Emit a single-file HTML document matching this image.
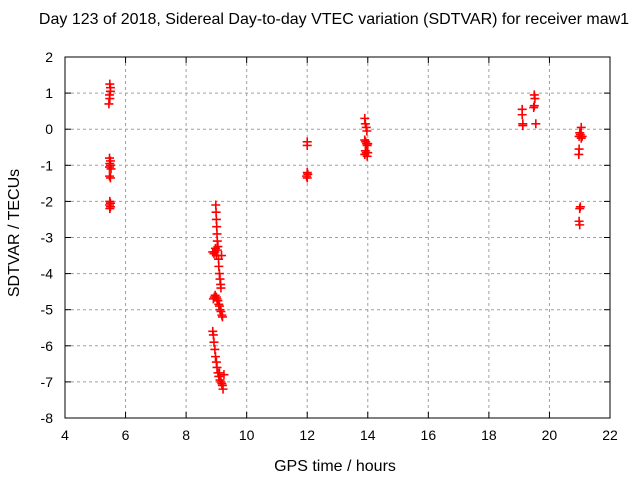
<!DOCTYPE html>
<html><head><meta charset="utf-8"><style>
body{margin:0;background:#fff}
svg text{font-family:"Liberation Sans",sans-serif;font-size:14px;fill:#000}
svg text.big{font-size:16px}
</style></head><body>
<svg id="chart" width="640" height="480" xmlns="http://www.w3.org/2000/svg">
<rect width="640" height="480" fill="#fff"/>
<text class="big" x="334" y="24" text-anchor="middle">Day 123 of 2018, Sidereal Day-to-day VTEC variation (SDTVAR) for receiver maw1</text>
<text class="big" x="335" y="471" text-anchor="middle">GPS time / hours</text>
<text class="big" transform="translate(19,233) rotate(-90)" text-anchor="middle">SDTVAR / TECUs</text>
<g id="grid"></g><g id="axes"></g><g id="pts"></g>
<rect x="65" y="57" width="545" height="361" fill="none" stroke="#000"/>
</svg>
<script>
const xTicks=[4,6,8,10,12,14,16,18,20,22];
const yTicks=[2,1,0,-1,-2,-3,-4,-5,-6,-7,-8];
const pointX=[5.48,5.5,5.5,5.47,5.48,5.45,5.47,5.5,5.48,5.5,5.47,5.52,5.47,5.5,5.48,5.5,5.47,5.5,5.48,
8.98,8.99,9.0,9.01,9.02,9.03,9.05,9.07,9.08,9.1,9.12,9.14,9.15,9.17,8.88,8.92,8.95,9.0,9.03,8.97,
8.9,8.93,8.96,9.0,9.02,9.05,9.08,9.1,9.12,9.15,9.18,9.2,
8.88,8.9,8.92,8.95,8.97,9.0,9.02,9.05,9.08,9.12,9.15,9.18,9.2,9.22,9.25,9.1,
12.0,12.0,12.0,12.02,11.98,12.0,
13.9,13.92,13.95,13.97,13.9,13.93,13.96,13.98,14.0,13.92,13.95,13.9,13.98,14.0,
19.1,19.1,19.12,19.12,19.5,19.52,19.5,19.48,19.55,
21.05,21.0,21.02,21.08,21.05,20.98,20.98,20.97,21.02,21.0,20.98,21.0];
const pointY=[1.25,1.15,1.05,0.95,0.85,0.7,-0.8,-0.88,-0.95,-1.0,-1.05,-1.1,-1.3,-1.35,-2.0,-2.05,-2.1,-2.15,-2.2,
-2.1,-2.3,-2.5,-2.7,-2.9,-3.1,-3.25,-3.6,-3.8,-4.0,-4.15,-4.3,-4.4,-3.5,-3.4,-3.45,-3.4,-3.5,-3.35,-3.3,
-4.7,-4.65,-4.6,-4.65,-4.7,-4.75,-4.85,-4.9,-5.0,-5.05,-5.15,-5.2,
-5.6,-5.7,-5.9,-6.1,-6.3,-6.45,-6.6,-6.75,-6.85,-6.95,-7.0,-7.05,-7.1,-7.2,-6.8,-6.75,
-0.35,-0.45,-1.2,-1.25,-1.3,-1.35,
0.3,0.15,0.05,-0.05,-0.3,-0.35,-0.4,-0.45,-0.4,-0.6,-0.65,-0.7,-0.75,-0.65,
0.55,0.4,0.15,0.1,0.95,0.85,0.65,0.6,0.15,
0.05,-0.1,-0.15,-0.2,-0.25,-0.2,-0.55,-0.7,-2.15,-2.2,-2.55,-2.65];
const X0=65,X1=610,Y0=57,Y1=418;
const sx=v=>X0+(v-4)/18*(X1-X0), sy=v=>Y0+(2-v)/10*(Y1-Y0);
const NS='http://www.w3.org/2000/svg';
function mk(t,a,p){const e=document.createElementNS(NS,t);for(const k in a)e.setAttribute(k,a[k]);p.appendChild(e);return e;}
const grid=document.getElementById('grid'),axes=document.getElementById('axes'),pts=document.getElementById('pts');
xTicks.forEach(t=>{const x=sx(t);
 if(t>4&&t<22){const g=mk('line',{x1:x,x2:x,y1:Y0,y2:Y1,stroke:'#a0a0a0','stroke-dasharray':'3,3'},grid);
 
 }
 mk('line',{x1:x,x2:x,y1:Y1,y2:Y1-6,stroke:'#000'},axes);mk('line',{x1:x,x2:x,y1:Y0,y2:Y0+6,stroke:'#000'},axes);
 const l=mk('text',{x:x,y:Y1+22,'text-anchor':'middle'},axes);l.textContent=t;
 
 });
yTicks.forEach(t=>{const y=sy(t);
 if(t<2&&t>-8){const g=mk('line',{x1:X0,x2:X1,y1:y,y2:y,stroke:'#a0a0a0','stroke-dasharray':'3,3'},grid);
 
 }
 mk('line',{x1:X0,x2:X0+6,y1:y,y2:y,stroke:'#000'},axes);mk('line',{x1:X1,x2:X1-6,y1:y,y2:y,stroke:'#000'},axes);
 const l=mk('text',{x:X0-12,y:y+5,'text-anchor':'end'},axes);l.textContent=t;
 
 });
pointX.forEach((v,i)=>{const x=sx(v),y=sy(pointY[i]);
 const p=mk('path',{d:`M${x-4.5},${y}H${x+4.5}M${x},${y-4.5}V${y+4.5}`,stroke:'#f00','stroke-width':1.6},pts);
 
 });
</script>
</body></html>
